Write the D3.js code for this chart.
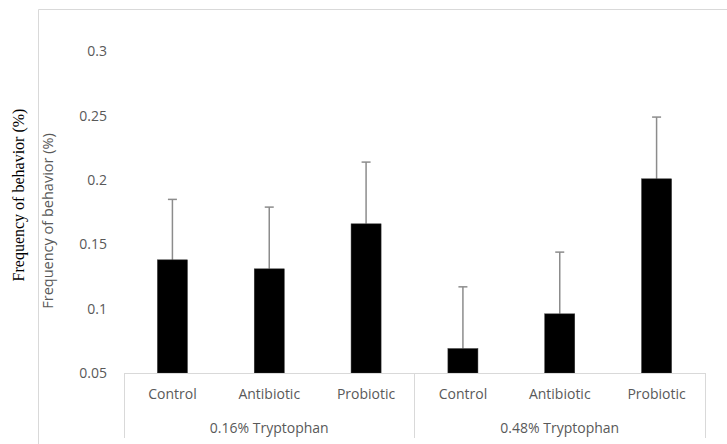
<!DOCTYPE html>
<html><head><meta charset="utf-8">
<script src="https://cdn.jsdelivr.net/npm/d3@7"></script>
<style>body{margin:0;background:#fff}svg{display:block}</style>
</head><body><svg id="c" width="727" height="444"></svg>
<script>
const groups = ["0.16% Tryptophan", "0.48% Tryptophan"];
const treatments = ["Control", "Antibiotic", "Probiotic"];
const values = [0.138, 0.131, 0.166, 0.069, 0.096, 0.201];
const errors = [0.047, 0.048, 0.048, 0.048, 0.048, 0.048];
const yTicks = [0.05, 0.1, 0.15, 0.2, 0.25, 0.3];
const yTitle = "Frequency of behavior (%)";

(function () {
const svg = d3.select("#c");
const W = 727, H = 444;
const mL = 124, mR = 705, mT = 51.5, mB = 373;
const font = "'Open Sans', sans-serif";
const txt = "#595959", grid = "#d9d9d9";

const data = [];
groups.forEach((g, gi) => treatments.forEach((t, ti) => {
  const i = gi * treatments.length + ti;
  data.push({key: g + "|" + t, group: g, treat: t, v: values[i], e: errors[i]});
}));

const x = d3.scaleBand().domain(data.map(d => d.key)).range([mL, mR]).paddingInner(0.69).paddingOuter(0.345);
const y = d3.scaleLinear().domain([0.05, 0.3]).range([mB, mT]);

svg.append("path").attr("d", `M38.5,${H} V9.5 H${W}`).attr("fill", "none").attr("stroke", grid).attr("stroke-width", 1);

const ya = svg.append("g").attr("transform", `translate(${mL},0)`)
  .call(d3.axisLeft(y).tickValues(yTicks).tickSize(0).tickPadding(17).tickFormat(d3.format("")));
ya.select(".domain").remove();
ya.selectAll("text").attr("fill", txt).style("font-family", font).style("font-size", "14px");

const eb = svg.append("g").attr("stroke", "#8c8c8c").attr("stroke-width", 1.5).attr("fill", "none");
data.forEach(d => {
  const cx = x(d.key) + x.bandwidth() / 2;
  eb.append("line").attr("x1", cx).attr("x2", cx).attr("y1", y(d.v)).attr("y2", y(d.v + d.e));
  eb.append("line").attr("x1", cx - 4.5).attr("x2", cx + 4.5).attr("y1", y(d.v + d.e)).attr("y2", y(d.v + d.e));
});

svg.append("g").selectAll("rect").data(data).join("rect")
  .attr("x", d => x(d.key)).attr("width", x.bandwidth())
  .attr("y", d => y(d.v)).attr("height", d => y(0.05) - y(d.v))
  .attr("fill", "#000").attr("stroke", "#333").attr("stroke-width", 0.5);

const xg = svg.append("g").attr("transform", `translate(0,${mB})`)
  .call(d3.axisBottom(x).tickSize(0).tickPadding(16).tickFormat(k => k.split("|")[1]));
xg.select(".domain").attr("stroke", grid);
xg.selectAll("text").attr("fill", txt).style("font-family", font).style("font-size", "14px");

const gw = (mR - mL) / groups.length;
const gx = d3.scaleBand().domain(groups).range([mL, mR]);
svg.append("g").selectAll("line").data(d3.range(groups.length + 1)).join("line")
  .attr("x1", i => mL + i * gw).attr("x2", i => mL + i * gw)
  .attr("y1", mB).attr("y2", 438).attr("stroke", grid).attr("stroke-width", 1).attr("shape-rendering", "crispEdges");
svg.append("g").selectAll("text").data(groups).join("text")
  .attr("x", g => gx(g) + gx.bandwidth() / 2).attr("y", 433)
  .attr("text-anchor", "middle").attr("fill", txt)
  .style("font-family", font).style("font-size", "14px").text(g => g);

svg.append("text").attr("transform", "translate(53,221) rotate(-90)")
  .attr("text-anchor", "middle").attr("fill", txt)
  .style("font-family", font).style("font-size", "14.5px").text(yTitle);
svg.append("text").attr("transform", "translate(24,195) rotate(-90)")
  .attr("text-anchor", "middle").attr("fill", "#000")
  .style("font-family", "'Liberation Serif', 'Times New Roman', serif").style("font-size", "16px").text(yTitle);
})();
</script></body></html>
